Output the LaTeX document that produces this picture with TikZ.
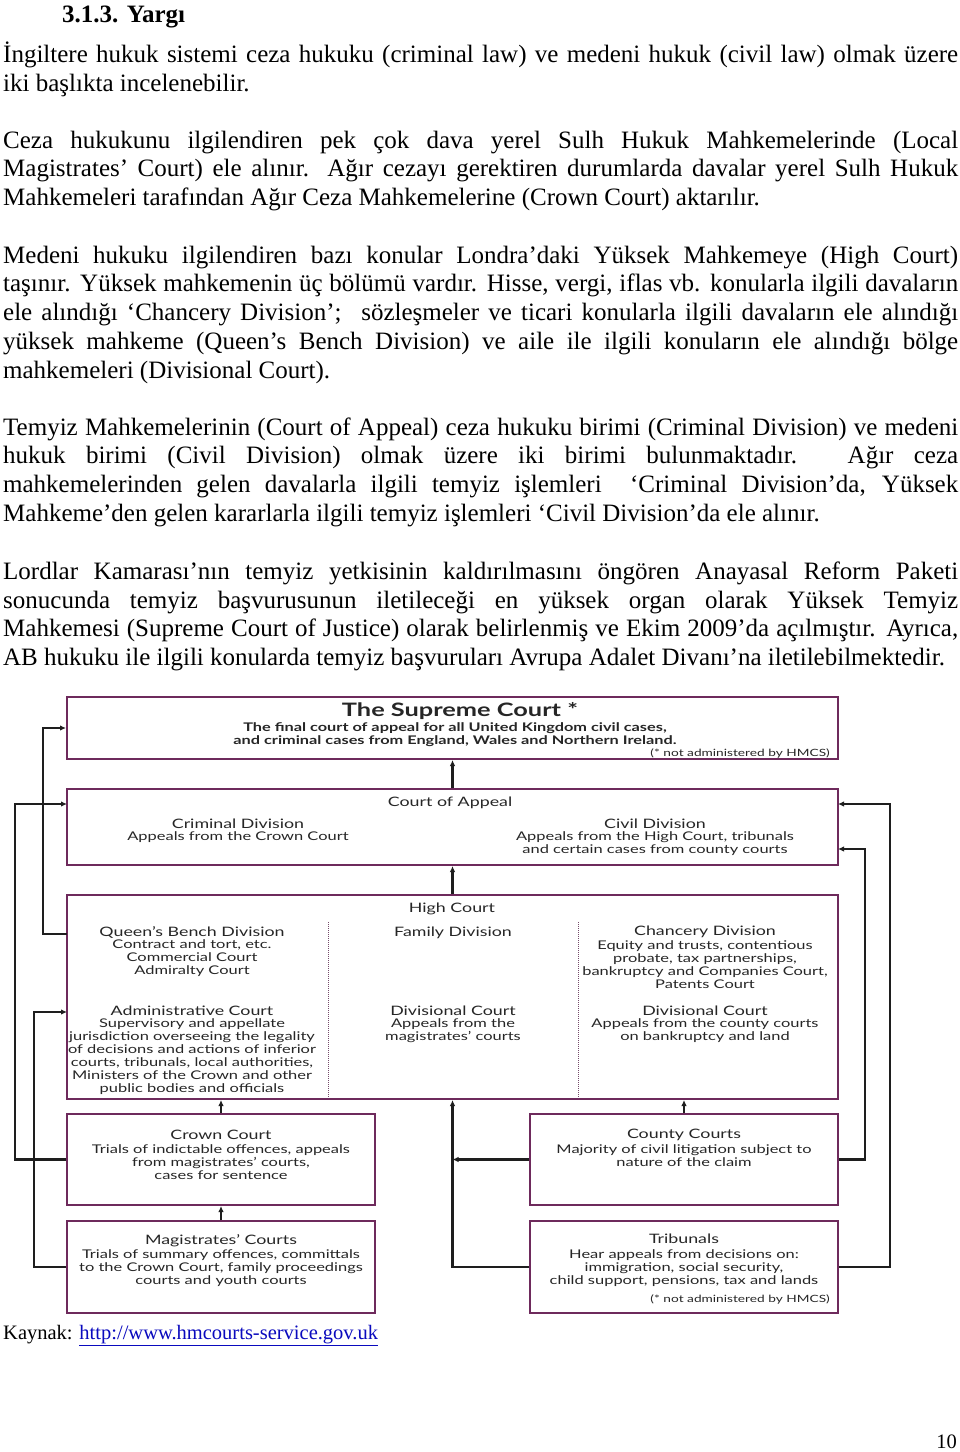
\documentclass[tikz,border=0pt]{standalone}
\usepackage{fontspec}
\setmainfont{Liberation Serif}
\newfontfamily\gillfont[FakeStretch=1.37]{Lato}
\usetikzlibrary{arrows.meta}
\definecolor{mor}{RGB}{110,42,92}
\definecolor{koyu}{RGB}{30,30,30}
\definecolor{bag}{RGB}{10,10,190}
\hyphenpenalty=10000

\begin{document}
\begin{tikzpicture}[x=1pt, y=-1pt]
\tikzset{metin/.style={anchor=north west, inner sep=0pt, text width=955pt, align=justify, font=\fontsize{25}{28.7}\selectfont},
	kutu/.style={draw=mor, line width=2pt, inner sep=0pt},
	baslik/.style={inner sep=0pt, align=center, text=black!85, font=\gillfont\fontsize{13}{13}\selectfont},
	yazi/.style={inner sep=0pt, align=center, text=black!85, font=\gillfont\fontsize{12}{13}\selectfont},
	dipnot/.style={inner sep=0pt, anchor=east, text=black!85, font=\gillfont\fontsize{10}{10}\selectfont},
	ayrac/.style={draw=mor!60!gray, line width=1pt, dash pattern=on 1pt off 1pt},
	fleche/.style={>={Latex[length=6pt, width=5.5pt]}, ->, line width=2.2pt, draw=koyu}}

\fill[white] (0,0) rectangle (960,1452);
\useasboundingbox (0,0) rectangle (960,1452);

\node[anchor=base west, inner sep=0pt, font=\fontsize{25}{28}\selectfont\bfseries] (bas) at (62,22) {3.1.3. Yargı};

\node[metin] (p1) at (3,42) {\noindent\strut İngiltere hukuk sistemi ceza hukuku (criminal law) ve medeni hukuk (civil law) olmak üzere\linebreak iki başlıkta incelenebilir.};
\node[metin] (p2) at (3,128) {\noindent\strut Ceza hukukunu ilgilendiren pek çok dava yerel Sulh Hukuk Mahkemelerinde (Local\linebreak Magistrates’ Court) ele alınır. Ağır cezayı gerektiren durumlarda davalar yerel Sulh Hukuk\linebreak Mahkemeleri tarafından Ağır Ceza Mahkemelerine (Crown Court) aktarılır.};
\node[metin] (p3) at (3,243) {\noindent\strut Medeni hukuku ilgilendiren bazı konular Londra’daki Yüksek Mahkemeye (High Court)\linebreak taşınır. Yüksek mahkemenin üç bölümü vardır. Hisse, vergi, iflas vb. konularla ilgili davaların\linebreak ele alındığı ‘Chancery Division’;~ sözleşmeler ve ticari konularla ilgili davaların ele alındığı\linebreak yüksek mahkeme (Queen’s Bench Division) ve aile ile ilgili konuların ele alındığı bölge\linebreak mahkemeleri (Divisional Court).};
\node[metin] (p4) at (3,415) {\noindent\strut Temyiz Mahkemelerinin (Court of Appeal) ceza hukuku birimi (Criminal Division) ve medeni\linebreak hukuk birimi (Civil Division) olmak üzere iki birimi bulunmaktadır. Ağır ceza\linebreak mahkemelerinden gelen davalarla ilgili temyiz işlemleri~ ‘Criminal Division’da, Yüksek\linebreak Mahkeme’den gelen kararlarla ilgili temyiz işlemleri ‘Civil Division’da ele alınır.};
\node[metin] (p5) at (3,559) {\noindent\strut Lordlar Kamarası’nın temyiz yetkisinin kaldırılmasını öngören Anayasal Reform Paketi\linebreak sonucunda temyiz başvurusunun iletileceği en yüksek organ olarak Yüksek Temyiz\linebreak Mahkemesi (Supreme Court of Justice) olarak belirlenmiş ve Ekim 2009’da açılmıştır. Ayrıca,\linebreak AB hukuku ile ilgili konularda temyiz başvuruları Avrupa Adalet Divanı’na iletilebilmektedir.};

\node[kutu, minimum width=771pt, minimum height=62pt] (supreme) at (452.5,728) {};
\node[kutu, minimum width=771pt, minimum height=76pt] (coa) at (452.5,827) {};
\node[kutu, minimum width=771pt, minimum height=204pt] (hc) at (452.5,997) {};
\node[kutu, minimum width=308pt, minimum height=91pt] (crown) at (221,1159.5) {};
\node[kutu, minimum width=308pt, minimum height=92pt] (mag) at (221,1267) {};
\node[kutu, minimum width=308pt, minimum height=91pt] (county) at (684,1159.5) {};
\node[kutu, minimum width=308pt, minimum height=92pt] (trib) at (684,1267) {};

\node[baslik, font=\gillfont\fontsize{18.5}{18}\selectfont\bfseries] (s1) at (460,711) {The Supreme Court *};
\node[yazi, font=\gillfont\fontsize{11.9}{13}\selectfont\bfseries] (s2) at (455,734.5) {The final court of appeal for all United Kingdom civil cases,\\and criminal cases from England, Wales and Northern Ireland.};
\node[dipnot] (s3) at (830,753) {(* not administered by HMCS)};

\node[baslik] (c1) at (450,803) {Court of Appeal};
\node[baslik] (c2) at (238,824) {Criminal Division};
\node[yazi] (c3) at (238,837) {Appeals from the Crown Court};
\node[baslik] (c4) at (655,824) {Civil Division};
\node[yazi] (c5) at (655,843.5) {Appeals from the High Court, tribunals\\and certain cases from county courts};

\node[baslik] (h1) at (452,909) {High Court};
\node[baslik] (h2) at (192,932) {Queen’s Bench Division};
\node[yazi] (h3) at (192,958.5) {Contract and tort, etc.\\Commercial Court\\Admiralty Court};
\node[baslik] (h4) at (192,1011) {Administrative Court};
\node[yazi] (h5) at (192,1056.5) {Supervisory and appellate\\jurisdiction overseeing the legality\\of decisions and actions of inferior\\courts, tribunals, local authorities,\\Ministers of the Crown and other\\public bodies and officials};
\node[baslik] (h6) at (453,933) {Family Division};
\node[baslik] (h7) at (453,1011) {Divisional Court};
\node[yazi] (h8) at (453,1030.5) {Appeals from the\\magistrates’ courts};
\node[baslik] (h9) at (705,932) {Chancery Division};
\node[yazi] (h10) at (705,965) {Equity and trusts, contentious\\probate, tax partnerships,\\bankruptcy and Companies Court,\\Patents Court};
\node[baslik] (h11) at (705,1011) {Divisional Court};
\node[yazi] (h12) at (705,1030.5) {Appeals from the county courts\\on bankruptcy and land};
\draw[ayrac] (328,922) -- (328,1098);
\draw[ayrac] (578,922) -- (578,1098);

\node[baslik] (k1) at (221,1135) {Crown Court};
\node[yazi] (k2) at (221,1162) {Trials of indictable offences, appeals\\from magistrates’ courts,\\cases for sentence};
\node[baslik] (m1) at (221,1241) {Magistrates’ Courts};
\node[yazi] (m2) at (221,1268) {Trials of summary offences, committals\\to the Crown Court, family proceedings\\courts and youth courts};
\node[baslik] (y1) at (684,1135) {County Courts};
\node[yazi] (y2) at (684,1155.5) {Majority of civil litigation subject to\\nature of the claim};
\node[baslik] (t1) at (684,1239) {Tribunals};
\node[yazi] (t2) at (684,1268) {Hear appeals from decisions on:\\immigration, social security,\\child support, pensions, tax and lands};
\node[dipnot] (t3) at (830,1299) {(* not administered by HMCS)};

\coordinate (hcA) at (67,934);
\coordinate (hcL) at (67,1012);
\coordinate (coaL) at (67,804);
\coordinate (coaR1) at (838,804);
\coordinate (coaR2) at (838,849);

\draw[fleche] (coa.north) -- (supreme.south);
\draw[fleche] (hc.north) -- (coa.south);
\draw[fleche] (crown.north) -- (crown.north |- hc.south);
\draw[fleche] (mag.north) -- (crown.south);
\draw[fleche] (county.north) -- (county.north |- hc.south);
\draw[fleche] (trib.west) -| (hc.south);
\draw[fleche] (county.west) -- (county.west -| hc.south);
\draw[fleche] (hcA) -- ++(-24,0) |- (supreme.west);
\draw[fleche] (crown.west) -- ++(-51,0) |- (coaL);
\draw[fleche] (mag.west) -- ++(-32,0) |- (hcL);
\draw[fleche] (county.east) -- ++(26,0) |- (coaR2);
\draw[fleche] (trib.east) -- ++(51,0) |- (coaR1);

\node[anchor=base west, inner sep=0pt, font=\fontsize{20.5}{24}\selectfont] (kaynak) at (3,1339) {Kaynak: {\color{bag}\underline{http://www.hmcourts-service.gov.uk}}};
\node[anchor=base east, inner sep=0pt, font=\fontsize{20.5}{24}\selectfont] (sayfa) at (957,1448) {10};

\end{tikzpicture}
\end{document}
